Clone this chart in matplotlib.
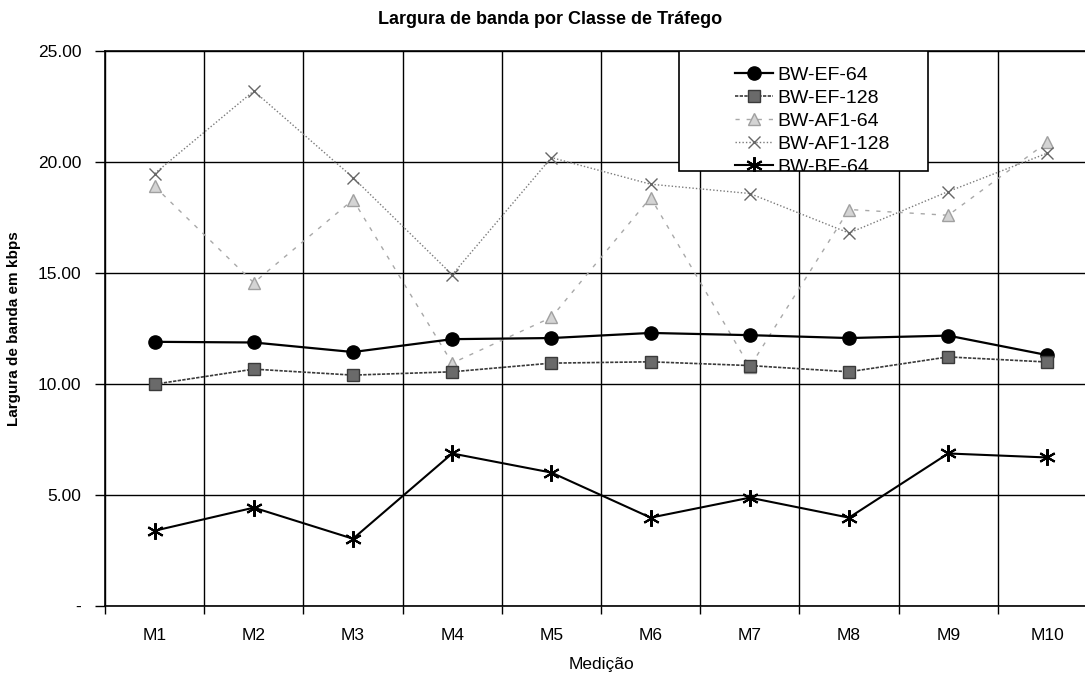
import matplotlib
matplotlib.use("Agg")
import matplotlib.pyplot as plt
import numpy as np
from matplotlib.patches import Rectangle
from matplotlib.ticker import FixedLocator, FuncFormatter

plt.rcParams["font.family"] = ["Liberation Sans", "DejaVu Sans"]

# --------------------------------------------------------------------------
# Dados
# --------------------------------------------------------------------------
medicoes = ["M1", "M2", "M3", "M4", "M5", "M6", "M7", "M8", "M9", "M10"]
bw_ef_64 = [11.90, 11.87, 11.44, 12.02, 12.07, 12.30, 12.20, 12.07, 12.18, 11.30]
bw_ef_128 = [9.99, 10.67, 10.40, 10.55, 10.94, 11.00, 10.83, 10.55, 11.22, 10.99]
bw_af1_64 = [18.90, 14.56, 18.30, 10.94, 13.00, 18.40, 10.77, 17.86, 17.60, 20.90]
bw_af1_128 = [19.48, 23.20, 19.30, 14.92, 20.20, 19.00, 18.58, 16.80, 18.67, 20.40]
bw_be_64 = [3.39, 4.43, 3.03, 6.87, 6.01, 3.98, 4.88, 3.98, 6.87, 6.69]

x = np.arange(len(medicoes))

fig = plt.figure(figsize=(10.85, 6.85), dpi=100)
ax = fig.add_axes([105 / 1085, 1 - 606 / 685, 992 / 1085, 555 / 685])

ax.plot(x, bw_ef_64, "-", color="black", lw=1.6, marker="o", ms=9.5,
        label="BW-EF-64", zorder=5)
ax.plot(x, bw_ef_128, color="#3a3a3a", lw=1.2, ls=(0, (2, 0.8)), marker="s", ms=8,
        mfc="#6a6a6a", mec="#3a3a3a", label="BW-EF-128", zorder=5)
ax.plot(x, bw_af1_64, color="#a8a8a8", lw=1.0, ls=(0, (3, 5)), marker="^", ms=8,
        mfc="#d4d4d4", mec="#a0a0a0", label="BW-AF1-64", zorder=4)
ax.plot(x, bw_af1_128, color="#7a7a7a", lw=1.0, ls=(0, (1, 1.5)), marker="x", ms=9,
        mec="#666666", mew=1.0, label="BW-AF1-128", zorder=4)
ax.plot(x, bw_be_64, "-", color="black", lw=1.5, marker=(6, 2, 0), ms=12,
        mew=1.5, label="BW-BE-64", zorder=5)

ax.set_xlim(-0.5, len(medicoes) - 0.5)
ax.set_ylim(0, 25)
ax.set_yticks(np.arange(0, 26, 5))
ax.yaxis.set_major_formatter(FuncFormatter(lambda v, p: "-" if v == 0 else f"{v:.2f}"))
ax.set_xticks(x)
ax.set_xticklabels(medicoes)
ax.xaxis.set_minor_locator(FixedLocator(np.arange(-0.5, len(medicoes), 1.0)))

ax.tick_params(axis="x", which="major", length=0, pad=16, labelsize=12.5)
ax.tick_params(axis="x", which="minor", length=6, width=1, direction="out")
ax.tick_params(axis="y", length=7, width=1, pad=10, labelsize=12.5)

ax.grid(axis="y", which="major", color="black", lw=1.0)
ax.grid(axis="x", which="minor", color="black", lw=1.0)
ax.set_axisbelow(True)
for s in ax.spines.values():
    s.set_color("black")
    s.set_linewidth(1.2)

ax.set_xlabel("Medição", fontsize=12.5, labelpad=10)
ax.set_ylabel("Largura de banda em kbps", fontsize=11, fontweight="bold", labelpad=12)
fig.text(550 / 1085, 1 - 20 / 685, "Largura de banda por Classe de Tráfego",
         ha="center", va="center", fontsize=13, fontweight="bold")

# caixa da legenda (o texto da última entrada fica cortado pela borda)
caixa = Rectangle((0.5786, 0.7834), 0.251, 0.2166, transform=ax.transAxes,
                  facecolor="white", edgecolor="black", lw=1.2, zorder=10)
ax.add_patch(caixa)
leg = ax.legend(loc="upper left", bbox_to_anchor=(0.625, 0.99), frameon=False,
                fontsize=14, borderpad=0, labelspacing=0.28, handlelength=1.95,
                handletextpad=0.25)
leg.set_zorder(11)
for t in leg.get_texts():
    t.set_clip_path(caixa)
for h in leg.legend_handles:
    h.set_clip_path(caixa)

fig.savefig("out.png", dpi=100)
